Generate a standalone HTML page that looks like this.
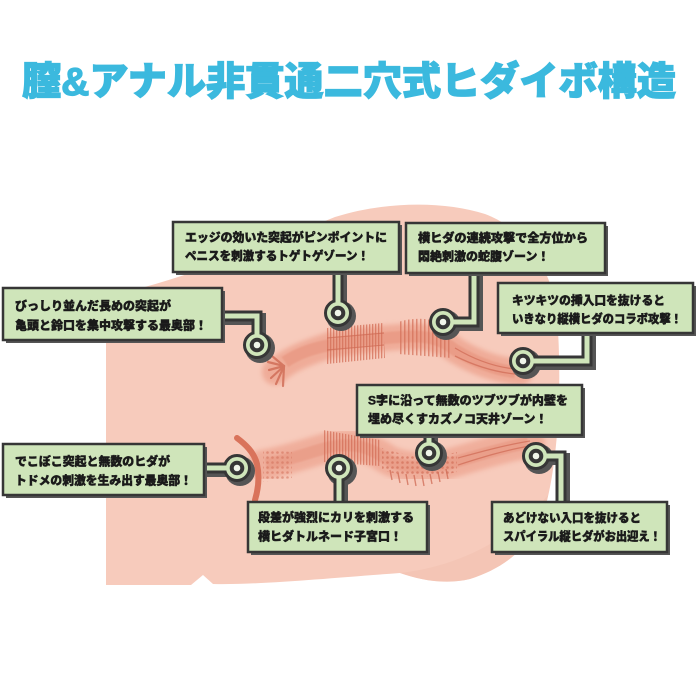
<!DOCTYPE html>
<html><head><meta charset="utf-8">
<style>
html,body{margin:0;padding:0;background:#fff;}
svg{display:block;}
.t{font-family:"Liberation Sans","Noto Sans CJK JP",sans-serif;font-weight:900;font-size:12px;fill:#1a1a1a;stroke:#1a1a1a;stroke-width:0.45;}
.ti{font-family:"Liberation Sans","Noto Sans CJK JP",sans-serif;font-weight:900;}
</style></head>
<body>
<svg width="700" height="700" viewBox="0 0 700 700" xmlns="http://www.w3.org/2000/svg">
<defs>
  <pattern id="vs" width="3" height="10" patternUnits="userSpaceOnUse">
    <rect x="0" y="0" width="1.3" height="10" fill="#d36e57"/>
  </pattern>
  <pattern id="vs2" width="4" height="10" patternUnits="userSpaceOnUse">
    <rect x="0" y="0" width="1.5" height="10" fill="#d36e57"/>
  </pattern>
  <pattern id="dots" width="5" height="5" patternUnits="userSpaceOnUse">
    <circle cx="2.5" cy="2.5" r="1.3" fill="#d3705a"/>
  </pattern>
  <filter id="bl" x="-20%" y="-50%" width="140%" height="200%"><feGaussianBlur stdDeviation="2.5"/></filter>
  <filter id="bl1" x="-20%" y="-50%" width="140%" height="200%"><feGaussianBlur stdDeviation="0.8"/></filter>
</defs>

<!-- Title -->
<text class="ti" x="22" y="95" font-size="39" textLength="654" lengthAdjust="spacingAndGlyphs" fill="#3bb9de" stroke="#3bb9de" stroke-width="1.2">膣&amp;アナル非貫通二穴式ヒダイボ構造</text>

<!-- Body -->
<path d="M106 296 C180 282,265 245,335 217 C385 201,445 201,485 214 C525 229,552 268,557 315 C562 380,559 455,546 505 C535 545,505 568,470 579 C445 585,420 580,400 573 C330 578,260 585,213 584 L203 575 L191 585 L106 585 Z" fill="#f7cbbc"/>
<path d="M400 573 C445 568,505 548,548 495 L546 505 C535 545,505 568,470 579 C445 585,420 580,400 573 Z" fill="#f1c1b1" opacity="0.6"/>

<!-- Upper channel -->
<g>
  <path d="M275 372 C290 358,310 352,330 345 C360 340,385 338,400 337 C425 335,440 338,455 350 C475 362,495 370,520 372" fill="none" stroke="#e9937c" stroke-width="26" stroke-linecap="round" opacity="0.55" filter="url(#bl)"/>
  <path d="M285 362 C300 352,315 348,330 345 C360 340,385 338,400 337 C425 335,440 338,455 350 C475 362,495 370,515 372" fill="none" stroke="#e48a73" stroke-width="12" opacity="0.45" filter="url(#bl1)"/>
  <path d="M327 328 L383 323 L385 358 L327 364 Z" fill="url(#vs)" opacity="0.75"/>
  <path d="M327 338 L384 333 M327 350 L384 345" stroke="#cf6a54" stroke-width="1.2" opacity="0.7"/>
  <path d="M398 322 Q425 314 448 326 L452 358 Q425 356 398 354 Z" fill="url(#vs2)" opacity="0.7"/>
  <path d="M455 348 C475 360,495 367,515 369 M455 356 C475 366,495 372,515 374" fill="none" stroke="#cf6a54" stroke-width="1.3" opacity="0.7"/>
  <g stroke="#cf6a54" stroke-width="2.2" opacity="0.8" stroke-linecap="round">
    <path d="M284 366 L268 362"/><path d="M284 366 L269 370"/><path d="M284 366 L271 378"/><path d="M284 366 L276 384"/><path d="M284 366 L283 386"/><path d="M284 366 L272 356"/>
  </g>
</g>

<!-- Lower channel -->
<g>
  <path d="M262 465 C290 460,310 452,330 447 C355 442,370 448,385 458 C400 468,430 470,455 462 C480 455,505 447,530 443" fill="none" stroke="#e9937c" stroke-width="30" stroke-linecap="round" opacity="0.5" filter="url(#bl)"/>
  <path d="M266 464 C290 460,310 452,330 447 C355 442,370 448,385 458 C400 468,430 470,455 462 C480 455,505 447,528 443" fill="none" stroke="#e48a73" stroke-width="12" opacity="0.4" filter="url(#bl1)"/>
  <path d="M263 450 L292 452 L292 478 L263 482 Z" fill="url(#dots)" opacity="0.55"/>
  <path d="M323 430 L380 440 L380 466 L323 462 Z" fill="url(#vs)" opacity="0.75"/>
  <path d="M382 448 Q420 462 457 452 L457 472 Q420 482 382 470 Z" fill="url(#dots)" opacity="0.7"/>
  <g stroke="#cf6a54" stroke-width="1.4" opacity="0.75">
    <path d="M390 470 L392 480 M398 473 L400 483 M406 474 L408 485 M414 475 L416 486 M422 475 L424 486 M430 474 L432 484 M438 472 L440 482 M446 469 L448 479"/>
  </g>
  <path d="M458 458 C480 452,505 445,530 441 M458 465 C480 458,505 450,530 446" fill="none" stroke="#cf6a54" stroke-width="1.2" opacity="0.7"/>
  <path d="M237 438 C245 444,254 452,257 464 C260 478,258 490,255 500" fill="none" stroke="#d9735b" stroke-width="6" stroke-linecap="round"/>
</g>

<!-- Connectors: shadows -->
<g fill="none" stroke="#555" stroke-width="12" transform="translate(3,3)">
  <path d="M219 316 H257 V345"/><path d="M338 269 V313"/><path d="M474 270 V322 H443"/><path d="M587 330 V361 H523"/>
  <path d="M429 432 V453"/><path d="M201 468 H237"/><path d="M339 505 V468"/><path d="M561 505 V456 H536"/>
</g>
<g fill="#555">
  <circle cx="260" cy="348" r="15"/><circle cx="341" cy="316" r="15"/><circle cx="446" cy="325" r="15"/><circle cx="526" cy="364" r="15"/>
  <circle cx="432" cy="456" r="15"/><circle cx="240" cy="471" r="15"/><circle cx="342" cy="471" r="15"/><circle cx="539" cy="459" r="15"/>
</g>
<!-- Connectors: outlines -->
<g fill="none" stroke="#363636" stroke-width="11">
  <path d="M219 316 H257 V345"/><path d="M338 269 V313"/><path d="M474 270 V322 H443"/><path d="M587 330 V361 H523"/>
  <path d="M429 432 V453"/><path d="M201 468 H237"/><path d="M339 505 V468"/><path d="M561 505 V456 H536"/>
</g>
<g fill="#cfe5ba" stroke="#363636" stroke-width="3">
  <circle cx="257" cy="345" r="12.5"/><circle cx="338" cy="313" r="12.5"/><circle cx="443" cy="322" r="12.5"/><circle cx="523" cy="361" r="12.5"/>
  <circle cx="429" cy="453" r="12.5"/><circle cx="237" cy="468" r="12.5"/><circle cx="339" cy="468" r="12.5"/><circle cx="536" cy="456" r="12.5"/>
</g>
<g fill="none" stroke="#cfe5ba" stroke-width="5">
  <path d="M219 316 H257 V345"/><path d="M338 269 V313"/><path d="M474 270 V322 H443"/><path d="M587 330 V361 H523"/>
  <path d="M429 432 V453"/><path d="M201 468 H237"/><path d="M339 505 V468"/><path d="M561 505 V456 H536"/>
</g>
<g fill="#f0f5ea" stroke="#363636" stroke-width="4">
  <circle cx="257" cy="345" r="5.3"/><circle cx="338" cy="313" r="5.3"/><circle cx="443" cy="322" r="5.3"/><circle cx="523" cy="361" r="5.3"/>
  <circle cx="429" cy="453" r="5.3"/><circle cx="237" cy="468" r="5.3"/><circle cx="339" cy="468" r="5.3"/><circle cx="536" cy="456" r="5.3"/>
</g>

<!-- Boxes: shadows -->
<g fill="#555">
  <rect x="176" y="225" width="226" height="50"/>
  <rect x="409" y="226" width="199" height="50"/>
  <rect x="6" y="291" width="219" height="52"/>
  <rect x="501" y="286" width="195" height="50"/>
  <rect x="360" y="388" width="225" height="50"/>
  <rect x="6" y="447" width="201" height="51"/>
  <rect x="251" y="505" width="179" height="50"/>
  <rect x="495" y="505" width="175" height="50"/>
</g>
<g fill="#cfe5ba" stroke="#363636" stroke-width="2.5">
  <rect x="173" y="222" width="226" height="50"/>
  <rect x="406" y="223" width="199" height="50"/>
  <rect x="3" y="288" width="219" height="52"/>
  <rect x="498" y="283" width="195" height="50"/>
  <rect x="357" y="385" width="225" height="50"/>
  <rect x="3" y="444" width="201" height="51"/>
  <rect x="248" y="502" width="179" height="50"/>
  <rect x="492" y="502" width="175" height="50"/>
</g>

<!-- Box texts -->
<text class="t" x="185" y="241.5" textLength="202" lengthAdjust="spacingAndGlyphs">エッジの効いた突起がピンポイントに</text>
<text class="t" x="185" y="260" textLength="184" lengthAdjust="spacingAndGlyphs">ペニスを刺激するトゲトゲゾーン！</text>

<text class="t" x="418" y="242" textLength="170" lengthAdjust="spacingAndGlyphs">横ヒダの連続攻撃で全方位から</text>
<text class="t" x="418" y="260.5">悶絶刺激の蛇腹ゾーン！</text>

<text class="t" x="15" y="310">びっしり並んだ長めの突起が</text>
<text class="t" x="15" y="329.5" textLength="192" lengthAdjust="spacingAndGlyphs">亀頭と鈴口を集中攻撃する最奥部！</text>

<text class="t" x="512" y="304.5" textLength="153" lengthAdjust="spacingAndGlyphs">キツキツの挿入口を抜けると</text>
<text class="t" x="512" y="323" textLength="170" lengthAdjust="spacingAndGlyphs">いきなり縦横ヒダのコラボ攻撃！</text>

<text class="t" x="368" y="404.5" textLength="200" lengthAdjust="spacingAndGlyphs">S字に沿って無数のツブツブが内壁を</text>
<text class="t" x="368" y="423">埋め尽くすカズノコ天井ゾーン！</text>

<text class="t" x="15" y="465.5" textLength="155" lengthAdjust="spacingAndGlyphs">でこぼこ突起と無数のヒダが</text>
<text class="t" x="15" y="484.5" textLength="177" lengthAdjust="spacingAndGlyphs">トドメの刺激を生み出す最奥部！</text>

<text class="t" x="258" y="521.5" textLength="156" lengthAdjust="spacingAndGlyphs">段差が強烈にカリを刺激する</text>
<text class="t" x="258" y="540.5">横ヒダトルネード子宮口！</text>

<text class="t" x="503" y="522" textLength="138" lengthAdjust="spacingAndGlyphs">あどけない入口を抜けると</text>
<text class="t" x="503" y="540.5" textLength="158" lengthAdjust="spacingAndGlyphs">スパイラル縦ヒダがお出迎え！</text>
</svg>
</body></html>
